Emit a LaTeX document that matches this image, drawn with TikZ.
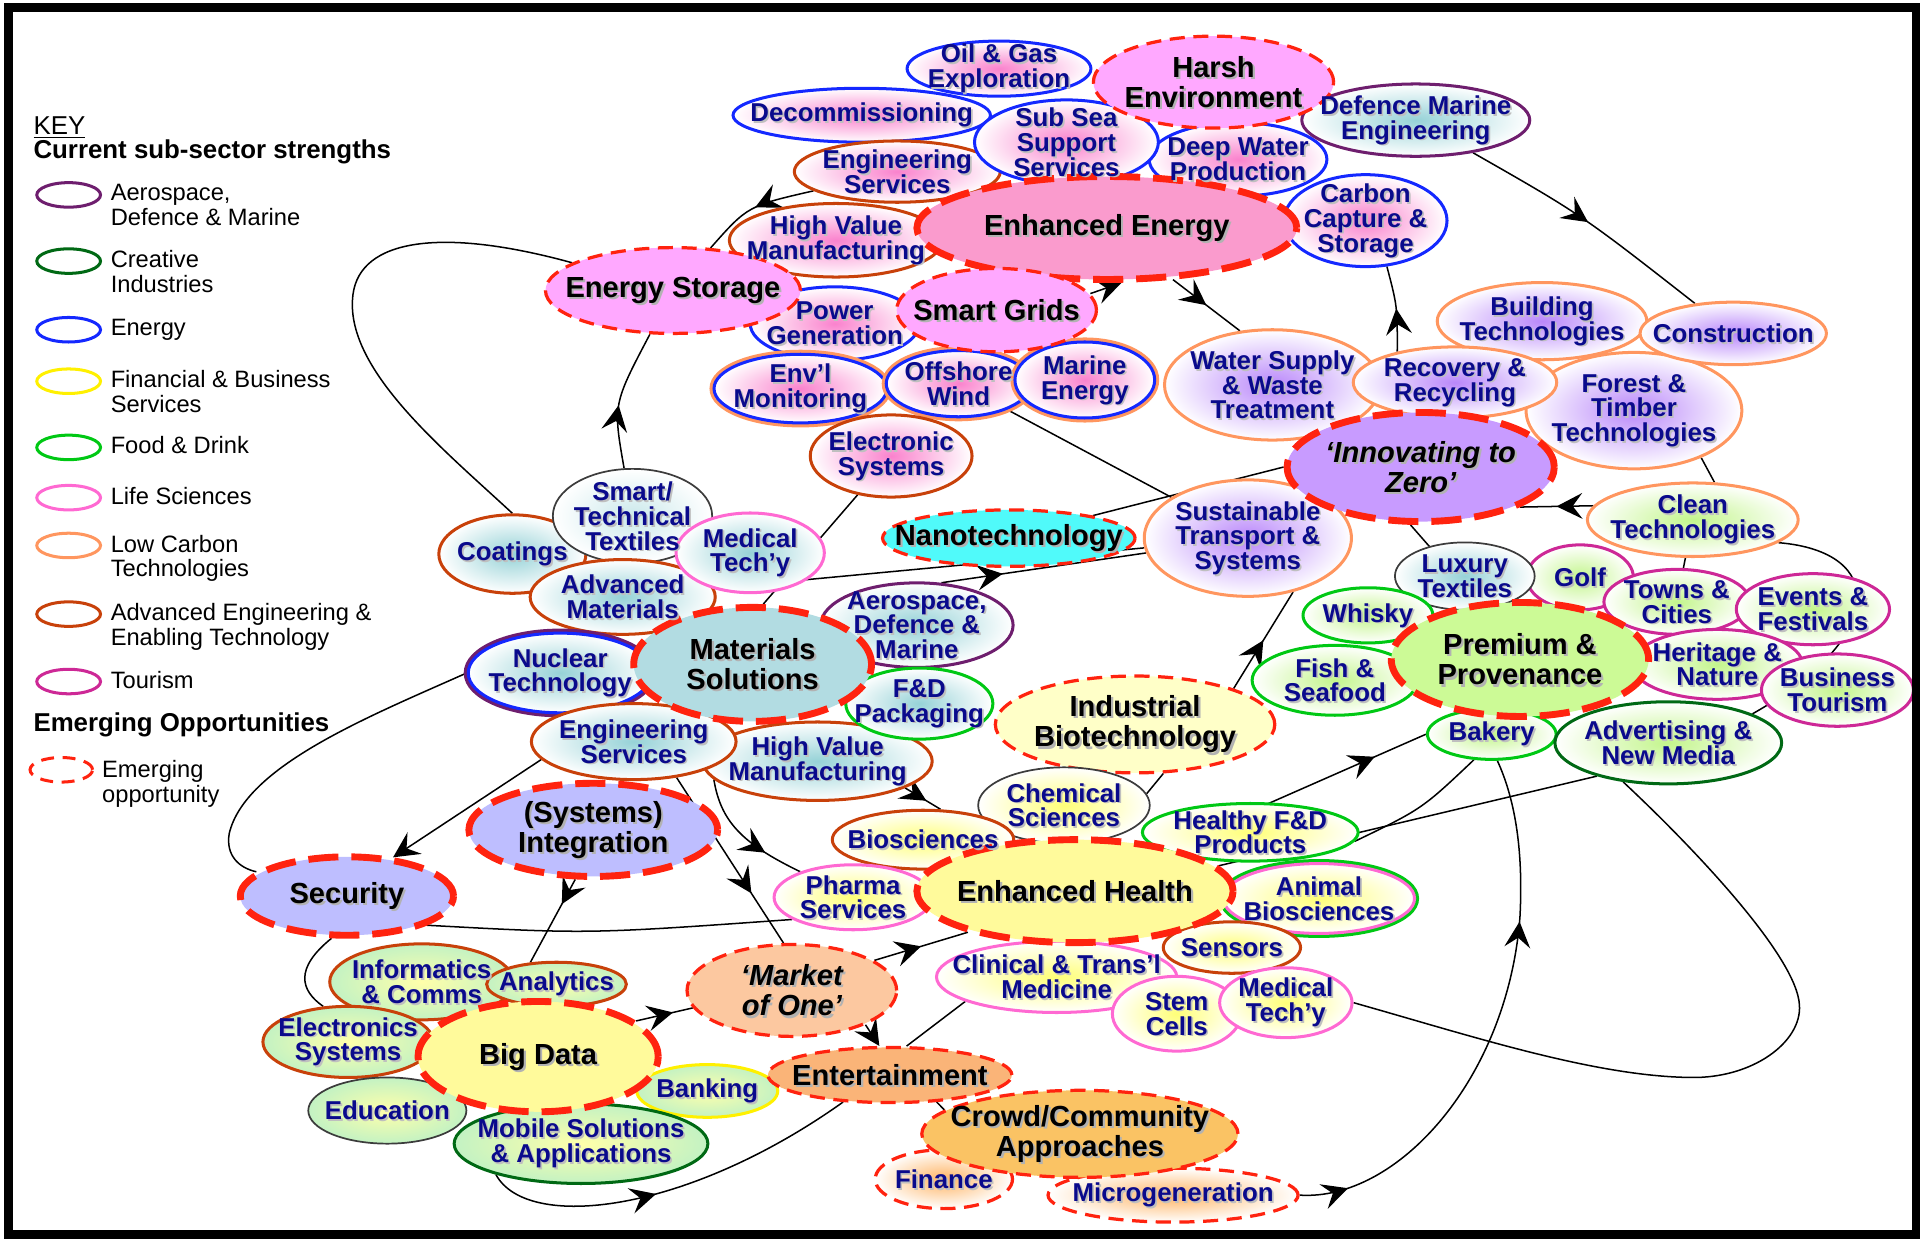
\documentclass[tikz,border=0pt]{standalone}
\usepackage{fontspec}
\setmainfont{Liberation Sans}
\usetikzlibrary{shapes.geometric,arrows.meta,decorations.markings,backgrounds}
\definecolor{txtBlue}{RGB}{10,10,140}
\definecolor{secAero}{RGB}{110,30,110}
\definecolor{secCrea}{RGB}{0,105,20}
\definecolor{secEner}{RGB}{20,40,255}
\definecolor{secFinb}{RGB}{255,240,0}
\definecolor{secFood}{RGB}{0,200,20}
\definecolor{secLife}{RGB}{255,105,210}
\definecolor{secLowc}{RGB}{255,150,95}
\definecolor{secAdve}{RGB}{200,65,10}
\definecolor{secTour}{RGB}{205,40,150}
\definecolor{secUnas}{RGB}{60,60,60}
\definecolor{dashRed}{RGB}{255,35,15}
\definecolor{gPink}{RGB}{250,130,205}
\definecolor{gPurp}{RGB}{185,135,250}
\definecolor{gTeal}{RGB}{150,210,215}
\definecolor{gYell}{RGB}{255,255,120}
\definecolor{gGreen}{RGB}{195,245,140}
\definecolor{gOrng}{RGB}{255,180,100}
\definecolor{bdYell}{RGB}{255,255,170}
\definecolor{bdGreen}{RGB}{195,242,195}
\definecolor{fMag}{RGB}{255,168,255}
\definecolor{fPink}{RGB}{250,155,205}
\definecolor{fViol}{RGB}{200,155,255}
\definecolor{fCyan}{RGB}{80,250,250}
\definecolor{fTeal}{RGB}{178,220,226}
\definecolor{fCream}{RGB}{255,255,200}
\definecolor{fLime}{RGB}{204,250,150}
\definecolor{fLav}{RGB}{190,190,255}
\definecolor{fYell}{RGB}{255,250,155}
\definecolor{fPeach}{RGB}{252,200,160}
\definecolor{fOrng}{RGB}{250,180,120}
\definecolor{fAmb}{RGB}{250,195,100}
\tikzset{
  sz/.style 2 args={minimum width=#1*0.02cm, minimum height=#2*0.02cm},
  bub/.style 2 args={ellipse, draw=#1, line width=1.4pt, inner color=#2, outer color=white, inner sep=0pt},
  ring/.style={preaction={draw=#1, line width=4.2pt}},
  hub/.style={ellipse, draw=dashRed, fill=#1, inner sep=0pt},
  hubthin/.style={hub=#1, line width=1.5pt, dash pattern=on 7pt off 4pt},
  hubthick/.style={hub=#1, line width=3.2pt, dash pattern=on 14pt off 6pt},
  subtxt/.style={font=\bfseries\fontsize{12}{11.5}\selectfont, text=txtBlue, align=center, inner sep=0pt},
  hubtxt/.style={font=\bfseries\fontsize{13.5}{14}\selectfont, align=center, inner sep=0pt},
  keyell/.style={ellipse, line width=1.4pt, minimum width=52*0.02cm, minimum height=20*0.02cm, inner sep=0pt},
  keytxt/.style={font=\fontsize{11}{11.4}\selectfont, align=left, inner sep=0pt},
  keyhead/.style={font=\bfseries\fontsize{12}{12}\selectfont, inner sep=0pt},
  conn/.style={draw=black, line width=0.7pt},
  midarr/.style={postaction={decorate, decoration={markings, mark=at position #1 with {\arrow{>}}}}}
}
\begin{document}
\begin{tikzpicture}[x=0.02cm, y=-0.02cm, >={Stealth[length=12pt,width=12pt,inset=4.5pt]}]
\useasboundingbox (0,0) rectangle (1568,1011);

% key
\node[font=\fontsize{12}{12}\selectfont, inner sep=0pt, anchor=west] (keyTitle) at (27,104) {\underline{KEY}};
\node[keyhead, anchor=west] (keyCurrent) at (27,124) {Current sub-sector strengths};
\foreach \nm/\col/\yy/\lbl in {aero/secAero/159/{Aerospace,\\Defence \& Marine},
  crea/secCrea/213/{Creative\\Industries}, ener/secEner/269/{Energy},
  finb/secFinb/311/{Financial \& Business\\Services}, food/secFood/365/{Food \& Drink},
  life/secLife/406/{Life Sciences}, lowc/secLowc/445/{Low Carbon\\Technologies},
  adve/secAdve/501/{Advanced Engineering \&\\Enabling Technology}, tour/secTour/556/{Tourism}}
{
  \node[keyell, draw=\col] (key\nm) at (56,\yy) {};
  \node[keytxt, anchor=north west] (key\nm-t) at (90,\yy-9) {\lbl};
}
\node[keyhead, anchor=west] (keyEmerging) at (27,591) {Emerging Opportunities};
\node[keyell, draw=dashRed, dash pattern=on 6pt off 4pt, minimum width=51*0.02cm] (keyDash) at (50,628) {};
\node[keytxt, anchor=north west] (keyDash-t) at (83,620) {Emerging\\opportunity};

% energy
\node[bub={secEner}{gPink}, sz={210}{44}] (decom) at (703,94) {};
\node[bub={secEner}{gPink}, sz={150}{45}] (oilGas) at (815,56) {};
\node[bub={secAdve}{gPink}, sz={168}{50}] (engSvcA) at (732,140) {};
\node[bub={secEner}{gPink}, sz={145}{60}] (deepWater) at (1010,130) {};
\node[bub={secEner}{gPink}, sz={150}{69}] (subSea) at (870,116) {};
\node[bub={secAero}{gTeal}, sz={186}{59}] (defMarine) at (1155,98) {};
\node[bub={secAdve}{gPink}, sz={174}{60}] (hvmA) at (682,196) {};
\node[bub={secEner}{gPink}, sz={133}{75}] (ccs) at (1114,180) {};
\node[bub={secEner}{gPink}, sz={138}{60}] (powerGen) at (681,264) {};
\node[bub={secEner}{gPink}, ring=secLowc, sz={141}{56}] (envMon) at (653,317) {};
\node[bub={secEner}{gPink}, ring=secLowc, sz={118}{54}] (offWind) at (782,313) {};
\node[bub={secEner}{gPink}, ring=secLowc, sz={114}{62}] (marineEn) at (885,310) {};
\node[bub={secAdve}{gPink}, sz={132}{67}] (elecSys) at (727,372) {};
\node[hubthin=fMag, sz={196}{75}] (harsh) at (990,67) {};
\node[hubthick=fPink, sz={310}{84}] (enhEnergy) at (903,186) {};
\node[hubthin=fMag, sz={208}{70}] (enStorage) at (549,237) {};
\node[hubthin=fMag, sz={163}{68}] (smartGrids) at (813,253) {};

% low carbon
\node[bub={secLowc}{gPurp}, sz={171}{63}] (building) at (1258,262) {};
\node[bub={secLowc}{gPurp}, sz={176}{95}] (forest) at (1333,335) {};
\node[bub={secLowc}{gPurp}, sz={176}{90}] (waterSup) at (1038,314) {};
\node[bub={secLowc}{gPurp}, sz={166}{58}] (recovery) at (1187,312) {};
\node[bub={secLowc}{gPurp}, sz={152}{51}] (construction) at (1414,272) {};
\node[bub={secLowc}{gPurp}, sz={169}{95}] (sustTrans) at (1018,439) {};
\node[bub={secLowc}{gGreen}, sz={172}{60}] (cleanTech) at (1381,424) {};
\node[hubthick=fViol, sz={218}{89}] (innovZero) at (1159,381) {};

% materials
\node[bub={secAdve}{gTeal}, sz={120}{64}] (coatings) at (418,452) {};
\node[bub={secUnas}{gTeal!50}, line width=0.8pt, sz={130}{77}] (smartTex) at (516,421) {};
\node[bub={secAdve}{gTeal}, sz={151}{61}] (advMat) at (508,487) {};
\node[bub={secLife}{gTeal}, sz={121}{65}] (medTechA) at (612,451) {};
\node[bub={secEner}{gTeal}, ring=secAero, sz={150}{65}] (nuclear) at (457,549) {};
\node[bub={secAdve}{gTeal}, sz={187}{64}] (hvmB) at (667,621) {};
\node[bub={secAdve}{gTeal}, sz={167}{62}] (engSvcB) at (517,605) {};
\node[bub={secAero}{gTeal}, sz={157}{69}] (aeroDM) at (748,510) {};
\node[bub={secFood}{gTeal}, sz={120}{58}] (fdPack) at (750,574) {};
\node[hubthick=fTeal, sz={194}{93}] (matSol) at (614,542) {};
\node[hubthin=fCyan, sz={206}{46}] (nano) at (823,439) {};
\node[hubthin=fCream, sz={228}{79}] (indBio) at (926,591) {};

% health
\node[bub={secUnas}{gYell}, line width=0.8pt, sz={140}{62}] (chemSci) at (868,657) {};
\node[bub={secAdve}{gYell}, sz={148}{48}] (biosci) at (753,685) {};
\node[bub={secLife}{gYell}, sz={129}{53}] (pharma) at (696,732) {};
\node[bub={secFood}{gYell}, sz={176}{47}] (healthyFD) at (1020,679) {};
\node[bub={secLife}{gYell}, ring=secFood, sz={156}{57}] (animalBio) at (1076,733) {};
\node[bub={secAdve}{gYell}, sz={112}{42}] (sensors) at (1005,773) {};
\node[bub={secLife}{gYell}, sz={196}{58}] (clinical) at (862,797) {};
\node[bub={secLife}{gYell}, sz={105}{61}] (stemCells) at (960,827) {};
\node[bub={secLife}{gYell}, sz={108}{57}] (medTechB) at (1049,818) {};
\node[hubthick=fYell, sz={258}{84}] (enhHealth) at (877,727) {};
\node[hubthick=fLav, sz={203}{76}] (sysInt) at (484,677) {};
\node[hubthick=fLav, sz={174}{64}] (security) at (283,731) {};

% big data and creative
\node[bub={secAdve}{bdYell}, outer color=bdGreen, sz={150}{62}] (informatics) at (344,801) {};
\node[bub={secAdve}{bdYell}, outer color=bdGreen, sz={114}{36}] (analytics) at (454,803) {};
\node[bub={secAdve}{bdYell}, outer color=bdGreen, sz={139}{58}] (elecsSys) at (284,850) {};
\node[bub={secUnas}{bdYell}, outer color=bdGreen, line width=0.8pt, sz={129}{54}] (education) at (316,906) {};
\node[bub={secFinb}{bdYell}, outer color=bdGreen, sz={115}{43}] (banking) at (577,890) {};
\node[bub={secCrea}{bdYell}, outer color=bdGreen, sz={207}{65}] (mobile) at (474,933) {};
\node[hubthick=fYell, sz={196}{90}] (bigData) at (439,862) {};
\node[hubthin=fPeach, sz={171}{75}] (market) at (646,808) {};
\node[hubthin=fOrng, sz={199}{45}] (entertain) at (726,877) {};
\node[hubthin=white, inner color=gOrng, outer color=white, sz={112}{48}] (finance) at (770,962) {};
\node[hubthin=white, inner color=gOrng, outer color=white, sz={204}{44}] (microgen) at (957,975) {};
\node[hubthin=fAmb, sz={258}{71}] (crowd) at (881,925) {};

% premium
\node[bub={secTour}{gGreen}, sz={87}{53}] (golf) at (1289,471) {};
\node[bub={secUnas}{gTeal}, line width=0.8pt, sz={114}{55}] (luxTex) at (1195,470) {};
\node[bub={secFood}{gGreen}, sz={106}{45}] (whisky) at (1116,502) {};
\node[bub={secFood}{gGreen}, sz={135}{57}] (fish) at (1089,555) {};
\node[bub={secTour}{gGreen}, sz={119}{53}] (towns) at (1368,491) {};
\node[bub={secTour}{gGreen}, sz={125}{58}] (events) at (1479,497) {};
\node[bub={secTour}{gGreen}, sz={139}{57}] (heritage) at (1401,542) {};
\node[bub={secTour}{gGreen}, sz={124}{59}] (busTour) at (1499,563) {};
\node[bub={secFood}{gGreen}, sz={105}{41}] (bakery) at (1217,599) {};
\node[bub={secCrea}{gGreen}, sz={185}{67}] (advert) at (1361,606) {};
\node[hubthick=fLime, sz={210}{93}] (premium) at (1240,538) {};

% texts
\foreach \nm/\lbl in {oilGas/{Oil \& Gas\\Exploration}, decom/{Decommissioning},
  subSea/{Sub Sea\\Support\\Services}, defMarine/{Defence Marine\\Engineering},
  engSvcA/{Engineering\\Services}, deepWater/{Deep Water\\Production},
  hvmA/{High Value\\Manufacturing}, ccs/{Carbon\\Capture \&\\Storage},
  powerGen/{Power\\Generation}, envMon/{Env’l\\Monitoring}, offWind/{Offshore\\Wind},
  marineEn/{Marine\\Energy}, elecSys/{Electronic\\Systems},
  building/{Building\\Technologies}, construction/{Construction},
  forest/{Forest \&\\Timber\\Technologies}, waterSup/{Water Supply\\\& Waste\\Treatment},
  recovery/{Recovery \&\\Recycling}, sustTrans/{Sustainable\\Transport \&\\Systems},
  cleanTech/{Clean\\Technologies}, coatings/{Coatings},
  smartTex/{Smart\slash\\Technical\\Textiles}, advMat/{Advanced\\Materials},
  medTechA/{Medical\\Tech’y}, nuclear/{Nuclear\\Technology},
  hvmB/{High Value\\Manufacturing}, engSvcB/{Engineering\\Services},
  aeroDM/{Aerospace,\\Defence \&\\Marine}, fdPack/{F\&D\\Packaging},
  chemSci/{Chemical\\Sciences}, biosci/{Biosciences}, pharma/{Pharma\\Services},
  healthyFD/{Healthy F\&D\\Products}, animalBio/{Animal\\Biosciences},
  sensors/{Sensors}, clinical/{Clinical \& Trans’l\\Medicine},
  stemCells/{Stem\\Cells}, medTechB/{Medical\\Tech’y},
  informatics/{Informatics\\\& Comms}, analytics/{Analytics},
  elecsSys/{Electronics\\Systems}, education/{Education}, banking/{Banking},
  mobile/{Mobile Solutions\\\& Applications}, finance/{Finance},
  microgen/{Microgeneration}, golf/{Golf}, luxTex/{Luxury\\Textiles},
  whisky/{Whisky}, fish/{Fish \&\\Seafood}, towns/{Towns \&\\Cities},
  events/{Events \&\\Festivals}, heritage/{Heritage \&\\Nature},
  busTour/{Business\\Tourism}, bakery/{Bakery}, advert/{Advertising \&\\New Media}}
{
  \node[subtxt, text=black!25] (\nm-s) at ([shift={(0.8pt,-0.8pt)}]\nm) {\lbl};
  \node[subtxt] (\nm-t) at (\nm) {\lbl};
}
\foreach \nm/\lbl in {harsh/{Harsh\\Environment}, enhEnergy/{Enhanced Energy},
  enStorage/{Energy Storage}, smartGrids/{Smart Grids},
  innovZero/{{\itshape ‘Innovating to}\\{\itshape Zero’}}, nano/{Nanotechnology},
  matSol/{Materials\\Solutions}, indBio/{Industrial\\Biotechnology},
  enhHealth/{Enhanced Health}, sysInt/{(Systems)\\Integration}, security/{Security},
  bigData/{Big Data}, market/{{\itshape ‘Market}\\{\itshape of One’}},
  entertain/{Entertainment}, crowd/{Crowd\slash Community\\Approaches},
  premium/{Premium \&\\Provenance}}
{
  \node[hubtxt, text=black!30] (\nm-s) at ([shift={(1pt,-1pt)}]\nm) {\lbl};
  \node[hubtxt] (\nm-t) at (\nm) {\lbl};
}

% connectors
\begin{scope}[on background layer]
\draw[conn, midarr=0.5] (defMarine) .. controls (1290,175) .. (construction);
\draw[conn, midarr=0.5] (engSvcA) .. controls (610,168) .. (enStorage);
\draw[conn] (coatings.north) .. controls (360,365) and (280,300) .. (288,240) .. controls (294,195) and (360,185) .. (enStorage);
\draw[conn, midarr=0.45] (smartTex) .. controls (500,330) .. (enStorage);
\draw[conn, ->] (smartGrids.10) -- (enhEnergy.-75);
\draw[conn, midarr=0.5] (enhEnergy.-38) -- (waterSup.121);
\draw[conn, midarr=0.5] (recovery.152) .. controls (1140,250) .. (ccs.-65);
\draw[conn] (offWind) -- (sustTrans);
\draw[conn] (nano.15) -- (innovZero.west);
\draw[conn] (advMat) -- (sustTrans);
\draw[conn, midarr=0.3] (aeroDM.60) -- (sustTrans);
\draw[conn] (matSol.80) -- (elecSys);
\draw[conn, midarr=0.5] (indBio.20) -- (sustTrans.-50);
\draw[conn] (chemSci.8) -- (indBio.-60);
\draw[conn, midarr=0.6] (hvmB.-17) -- (biosci.60);
\draw[conn, midarr=0.7] (hvmB.190) .. controls (588,670) and (605,688) .. (pharma);
\draw[conn, midarr=0.7] (engSvcB.-40) -- (market.100);
\draw[conn, ->] (engSvcB.191) -- (security.40);
\draw[conn] (nuclear.west) .. controls (300,585) and (200,625) .. (187,680) .. controls (184,698) and (195,708) .. (security.165);
\draw[conn] (security.-20) .. controls (480,762) .. (pharma.200);
\draw[conn] (security.-110) .. controls (240,790) and (245,808) .. (elecsSys.125);
\draw[conn, midarr=0.3] (sysInt.-110) -- (analytics.140);
\draw[conn, midarr=0.65] (bigData.20) -- (market.190);
\draw[conn, midarr=0.5] (market.20) -- (enhHealth.201);
\draw[conn, ->] (market.-25) -- (entertain.110);
\draw[conn] (entertain.60) -- (clinical.195);
\draw[conn] (entertain.-30) -- (crowd.170);
\draw[conn, midarr=0.45] (mobile.-160) .. controls (430,1005) and (560,990) .. (entertain.-150);
\draw[conn, midarr=0.09, midarr=0.7] (microgen.east) .. controls (1140,980) and (1230,880) .. (1240,748) .. controls (1243,690) and (1235,650) .. (bakery.-78);
\draw[conn, midarr=0.8] (enhHealth.25) -- (bakery.west);
\draw[conn] (healthyFD.-5) .. controls (1160,660) .. (bakery.-125);
\draw[conn] (enhHealth.10) -- (advert.205);
\draw[conn] (medTechB.east) .. controls (1200,845) and (1300,878) .. (1379,879) .. controls (1430,880) and (1470,850) .. (1468,820) .. controls (1466,780) and (1380,690) .. (advert.-139);
\draw[conn] (forest.-35) -- (cleanTech.60);
\draw[conn, midarr=0.5] (cleanTech.172) -- (innovZero.-22);
\draw[conn] (cleanTech.-15) .. controls (1540,450) and (1540,520) .. (advert.19);
\draw[conn] (cleanTech) -- (towns);
\draw[conn] (innovZero.-100) -- (luxTex.140);
\end{scope}

% frame
\draw[line width=0.14cm] (7,6) rectangle (1563,1007);
\end{tikzpicture}
\end{document}
